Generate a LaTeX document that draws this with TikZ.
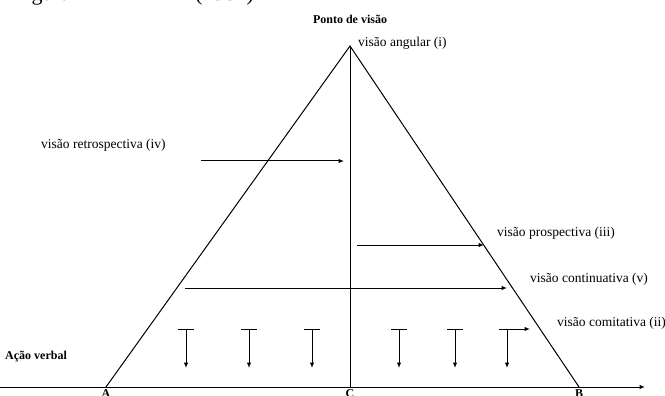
\documentclass[tikz,border=0pt]{standalone}
\usepackage{fontspec}
\setmainfont{Liberation Serif}
\usetikzlibrary{arrows.meta}
\begin{document}
\begin{tikzpicture}[x=1pt,y=-1pt,
  lbl/.style={font=\fontsize{13.5}{15}\selectfont,inner sep=0pt},
  blbl/.style={font=\fontsize{12}{14}\selectfont\bfseries,inner sep=0pt},
  ln/.style={line width=1pt,black},
  arr/.style={line width=1pt,black,-{Latex[length=5.5pt,width=4.5pt]}}]
\useasboundingbox (0,0) rectangle (665,396);
% clipped caption fragment at the top
\begin{scope}
\clip (0,0) rectangle (665,9);
\node[font=\fontsize{22}{24}\selectfont,inner sep=0pt,anchor=base west] (cap1) at (13,1) {Figura};
\node[font=\fontsize{22}{24}\selectfont,inner sep=0pt,anchor=base west] (cap2) at (195,1) {(1987)};
\end{scope}
% key points
\coordinate (apex) at (350,46);
\coordinate (A) at (106,387);
\coordinate (C) at (350,387);
\coordinate (B) at (579,387);
\coordinate (axs) at (0,387);
\coordinate (axe) at (645,387);
% triangle and axis
\draw[ln] (A) -- (apex) -- (B);
\draw[ln] (apex) -- (C);
\draw[arr] (axs) -- (axe);
% labels
\node[blbl] (pv) at (350,19) {Ponto de visão};
\node[lbl,anchor=base west] (ang) at (358,47) {visão angular (i)};
\node[lbl,anchor=base west] (retro) at (41,149) {visão retrospectiva (iv)};
\node[lbl,anchor=base west] (prosp) at (497,236) {visão prospectiva (iii)};
\node[lbl,anchor=base west] (cont) at (530,282) {visão continuativa (v)};
\node[lbl,anchor=base west] (comit) at (557,326) {visão comitativa (ii)};
\node[blbl,anchor=base west] (acao) at (5,359) {Ação verbal};
\node[blbl,anchor=base] (lA) at (A|-0,397) {A};
\node[blbl,anchor=base] (lC) at (C|-0,397) {C};
\node[blbl,anchor=base] (lB) at (B|-0,397) {B};
% horizontal view arrows
\coordinate (r1) at (201,161); \coordinate (r2) at (344,161);
\coordinate (p1) at (357,245); \coordinate (p2) at (484,245);
\coordinate (c1) at (185,288); \coordinate (c2) at (507,288);
\draw[arr] (r1) -- (r2);
\draw[arr] (p1) -- (p2);
\draw[arr] (c1) -- (c2);
% T-shaped arrows (action)
\foreach \x in {186,249,312,399,455} {
  \coordinate (tl\x) at (\x-8,329);
  \coordinate (tr\x) at (\x+8,329);
  \coordinate (tt\x) at (\x,329);
  \coordinate (tb\x) at (\x,368);
  \draw[ln] (tl\x) -- (tr\x);
  \draw[arr] (tt\x) -- (tb\x);
}
\coordinate (ul) at (499,329);
\coordinate (ur) at (530,329);
\coordinate (ut) at (507,329);
\coordinate (ub) at (507,368);
\draw[arr] (ul) -- (ur);
\draw[arr] (ut) -- (ub);
\end{tikzpicture}
\end{document}
